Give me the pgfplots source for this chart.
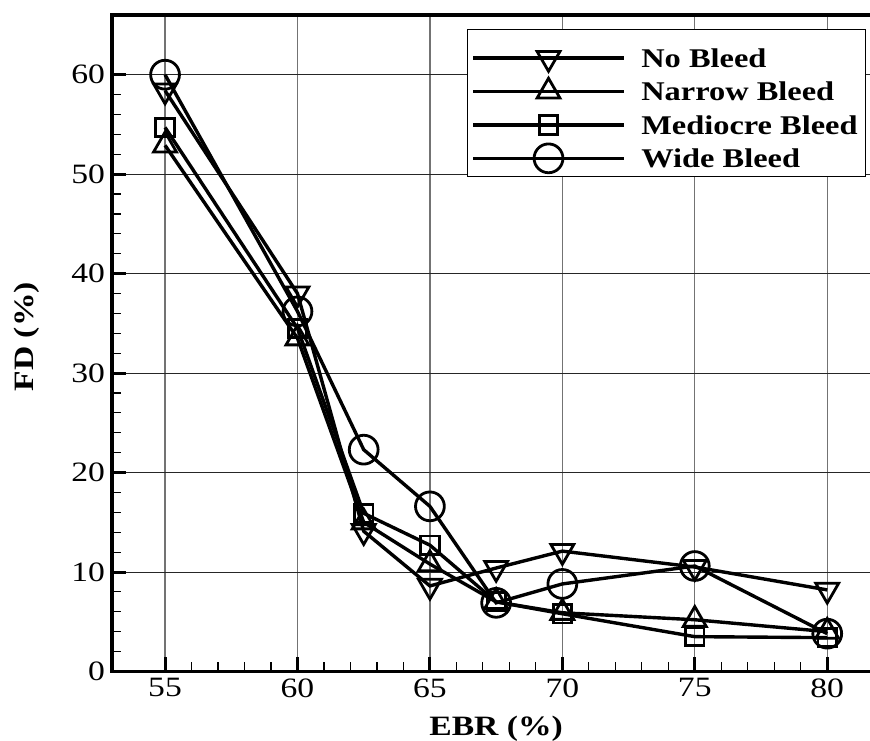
\documentclass[border=0pt]{standalone}
\usepackage{fontspec}
\setmainfont{Liberation Serif}[FakeStretch=1.2]
\usepackage{pgfplots}
\pgfplotsset{compat=1.18}
\begin{document}
\begin{tikzpicture}
\begin{axis}[
  scale only axis,
  width=383.8pt, height=328pt,
  xmin=53, xmax=82, ymin=0, ymax=66,
  xtick={55,60,...,80}, ytick={0,10,...,60},
  minor x tick num=4, minor y tick num=4,
  tick pos=left, tick align=inside,
  major tick length=7pt, minor tick length=4.5pt,
  every major tick/.append style={line width=1.5pt, black},
  every minor tick/.append style={line width=0.6pt, black},
  axis line style={line width=1.8pt},
  grid=major,
  major x grid style={black!55, line width=0.6pt},
  major y grid style={black!85, line width=0.5pt},
  /pgf/number format/assume math mode=true,
  ticklabel style={font=\fontsize{14}{16}\selectfont},
  xlabel={EBR (\%)}, ylabel={FD (\%)},
  every axis x label/.style={at={(axis description cs:0.5,0)}, anchor=north, yshift=-18.5pt,
    font=\fontsize{14}{16}\selectfont\bfseries},
  every axis y label/.style={at={(axis description cs:0,0.51)}, rotate=90, anchor=center, yshift=42.5pt,
    font=\fontsize{14}{16}\selectfont\bfseries},
  legend style={at={(axis cs:66.41,64.59)}, anchor=north west, draw=black, line width=0.5pt, fill=white,
    font=\fontsize{13.5}{16}\selectfont\bfseries, inner sep=2pt, row sep=-2.8pt,
    nodes={inner sep=2pt, text height=15pt, text depth=0.5pt}},
  legend cell align=left,
  /tikz/every odd column/.append style={column sep=6pt},
  legend image code/.code={
    \draw[#1, line width=1.7pt, mark repeat=2, mark phase=2] plot coordinates {(0pt,-2.5pt) (37.5pt,-2.5pt) (75pt,-2.5pt)};
  },
  every axis plot/.append style={line width=1.7pt, black},
]
\addplot[mark=triangle, mark size=6.6pt, mark options={rotate=180, fill=white, line width=1.4pt}] coordinates {
  (55,58.4) (60,38.0) (62.5,14.1) (65,8.6) (67.5,10.4) (70,12.1) (75,10.5) (80,8.2)};
\addlegendentry{No Bleed}
\addplot[mark=triangle, mark size=6.6pt, mark options={fill=white, line width=1.4pt}] coordinates {
  (55,52.9) (60,33.5) (62.5,15.0) (65,10.8) (67.5,7.0) (70,5.9) (75,5.2) (80,4.0)};
\addlegendentry{Narrow Bleed}
\addplot[mark=square, mark size=4.6pt, mark options={fill=white, line width=1.4pt}] coordinates {
  (55,54.7) (60,34.5) (62.5,15.9) (65,12.7) (67.5,7.0) (70,5.8) (75,3.5) (80,3.4)};
\addlegendentry{Mediocre Bleed}
\addplot[mark=o, mark size=7.2pt, mark options={fill=white, line width=1.4pt}] coordinates {
  (55,60.0) (60,36.2) (62.5,22.3) (65,16.6) (67.5,6.9) (70,8.8) (75,10.6) (80,3.8)};
\addlegendentry{Wide Bleed}
\end{axis}
\pgfresetboundingbox
\useasboundingbox (-56pt,-34.65pt) rectangle (378.7pt,335.5pt);
\end{tikzpicture}
\end{document}
